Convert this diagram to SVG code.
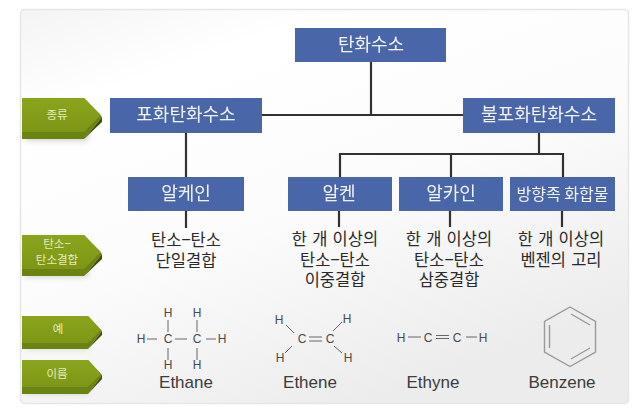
<svg xmlns="http://www.w3.org/2000/svg" width="639" height="414" viewBox="0 0 639 414">
<defs>
<linearGradient id="bg" x1="0" y1="0" x2="0.55" y2="1"><stop offset="0" stop-color="#f4f4f4"/><stop offset="0.22" stop-color="#ffffff"/><stop offset="0.6" stop-color="#fbfbfb"/><stop offset="1" stop-color="#ececec"/></linearGradient>
<linearGradient id="gr" x1="0" y1="0" x2="0" y2="1"><stop offset="0" stop-color="#8aa51c"/><stop offset="1" stop-color="#7d9616"/></linearGradient>
<filter id="sh" x="-20%" y="-60%" width="140%" height="320%"><feGaussianBlur stdDeviation="3"/></filter>
<filter id="soft" x="-5%" y="-5%" width="110%" height="110%"><feGaussianBlur stdDeviation="0.35"/></filter>
</defs>
<style>
text{font-family:"Noto Sans CJK KR","Noto Sans",sans-serif;text-anchor:middle}
.box{fill:#4a66a8}
.bt{fill:#f2f4fa;font-size:18px}
.lbl{fill:#2a2a2a;font-size:16.5px;word-spacing:1.5px}
.tag{fill:#e4ecc4;font-size:11.500px}
.en{font-family:"Liberation Sans",sans-serif;fill:#3c3c3c;font-size:17px}
.at{font-family:"Liberation Sans",sans-serif;fill:#4a4a4a;font-size:12px}
.c{stroke:#333;stroke-width:2.2;fill:none}
.b{stroke:#666;stroke-width:1;fill:none}
.bz{stroke:#999;stroke-width:1.4;fill:none}
</style>
<rect width="639" height="414" fill="#ffffff"/>
<rect x="20.500" y="9.500" width="608" height="394" rx="4" fill="url(#bg)" stroke="#e6e6e6" stroke-width="1.500"/>
<g id="connectors" filter="url(#soft)">
<path class="c" d="M371 62V115M262 115H463M186 132V177M539 132V154M340 177V154H563V177M451 154V177M186 211V228M339 211V227M450 211V227M562 211V227"/>
</g>
<g filter="url(#soft)">
<g id="n-root"><rect class="box" x="295" y="28" width="151" height="34"/><text class="bt" x="371" y="51">탄화수소</text></g>
<g id="n-sat"><rect class="box" x="110" y="98" width="152" height="35"/><text class="bt" x="186" y="121">포화탄화수소</text></g>
<g id="n-unsat"><rect class="box" x="463" y="98" width="152" height="35"/><text class="bt" x="539" y="121">불포화탄화수소</text></g>
<g id="n-alkane"><rect class="box" x="128" y="177" width="116" height="34"/><text class="bt" x="186" y="200">알케인</text></g>
<g id="n-alkene"><rect class="box" x="288" y="177" width="104" height="34"/><text class="bt" x="339" y="200">알켄</text></g>
<g id="n-alkyne"><rect class="box" x="399" y="177" width="104" height="34"/><text class="bt" x="451" y="200">알카인</text></g>
<g id="n-aromatic"><rect class="box" x="510" y="177" width="105" height="34"/><text class="bt" x="562.500" y="200" style="font-size:16px">방향족 화합물</text></g>
</g>
<g id="tag-1"><rect x="26" y="132" width="62" height="8" fill="#888" opacity="0.5" filter="url(#sh)"/><path d="M22 98H84L102 117L84 139H22Z" fill="#6b8312"/><path d="M84 139L102 117V122L84 139Z" fill="#3f4f08"/><path d="M22 98H84L101 115L84 132H22Z" fill="url(#gr)"/><text class="tag" x="57" y="119">종류</text></g>
<g id="tag-2"><rect x="26" y="268" width="62" height="8" fill="#888" opacity="0.5" filter="url(#sh)"/><path d="M22 235H84L102 254L84 276H22Z" fill="#6b8312"/><path d="M84 276L102 254V259L84 276Z" fill="#3f4f08"/><path d="M22 235H84L101 252L84 269H22Z" fill="url(#gr)"/><text class="tag" x="57" y="248">탄소−</text><text class="tag" x="57" y="264">탄소결합</text></g>
<g id="tag-3"><rect x="26" y="343" width="62" height="6" fill="#888" opacity="0.35" filter="url(#sh)"/><path d="M22 316H88L102 331L88 349H22Z" fill="#6b8312"/><path d="M88 349L102 331V335L88 349Z" fill="#3f4f08"/><path d="M22 316H88L101 330L88 343H22Z" fill="url(#gr)"/><text class="tag" x="58" y="333">예</text></g>
<g id="tag-4"><rect x="26" y="387" width="62" height="6" fill="#888" opacity="0.45" filter="url(#sh)"/><path d="M22 360H88L102 375L88 394H22Z" fill="#6b8312"/><path d="M88 394L102 375V379L88 394Z" fill="#3f4f08"/><path d="M22 360H88L101 374L88 387H22Z" fill="url(#gr)"/><text class="tag" x="57" y="378">이름</text></g>
<g id="desc">
<text class="lbl" x="186" y="246">탄소−탄소</text><text class="lbl" x="186" y="267">단일결합</text>
<text class="lbl" x="335" y="245">한 개 이상의</text><text class="lbl" x="335" y="266">탄소−탄소</text><text class="lbl" x="335" y="286">이중결합</text>
<text class="lbl" x="449" y="245">한 개 이상의</text><text class="lbl" x="449" y="266">탄소−탄소</text><text class="lbl" x="449" y="286">삼중결합</text>
<text class="lbl" x="561" y="245">한 개 이상의</text><text class="lbl" x="561" y="266">벤젠의 고리</text>
</g>
<g id="ethane">
<text class="at" x="168" y="317">H</text><text class="at" x="197" y="317">H</text><text class="at" x="141" y="343">H</text><text class="at" x="168" y="343">C</text><text class="at" x="197" y="343">C</text><text class="at" x="222" y="343">H</text><text class="at" x="168" y="369">H</text><text class="at" x="197" y="369">H</text>
<path class="b" d="M147 339H157M175 339H187M206 339H216M168 320V332M197 320V332M168 348V360M197 348V360"/>
<text class="en" x="186" y="388">Ethane</text>
</g>
<g id="ethene">
<text class="at" x="279" y="324">H</text><text class="at" x="347" y="323">H</text><text class="at" x="302" y="343">C</text><text class="at" x="330" y="343">C</text><text class="at" x="280" y="362">H</text><text class="at" x="348" y="362">H</text>
<path class="b" d="M286 325L294 333M292 346L285 353M309 337H322M309 341H322M333 331L342 322M334 346L342 353"/>
<text class="en" x="310" y="388">Ethene</text>
</g>
<g id="ethyne">
<text class="at" x="401" y="342">H</text><text class="at" x="428" y="342">C</text><text class="at" x="457" y="342">C</text><text class="at" x="483" y="342">H</text>
<path class="b" d="M408 337H421M436 335.500H449M436 338.500H449M466 337H477"/>
<text class="en" x="433" y="388">Ethyne</text>
</g>
<g id="benzene">
<path class="bz" d="M570 307L595.500 321.500V352L570 366.500L544.500 352V321.500Z"/>
<path class="bz" d="M571 314L590 325M549.500 325V348M571 359L590 348"/>
<text class="en" x="562" y="388">Benzene</text>
</g>
</svg>
